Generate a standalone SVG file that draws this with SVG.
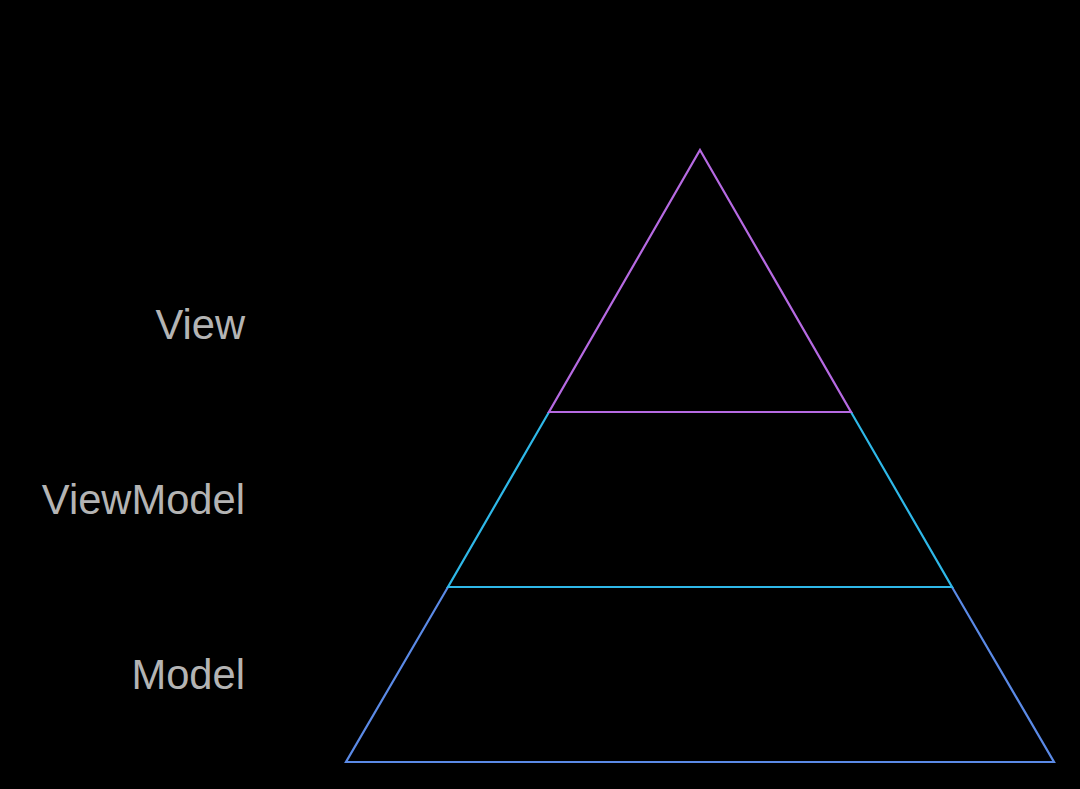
<svg xmlns="http://www.w3.org/2000/svg" width="1080" height="789" viewBox="0 0 1080 789">
<style>
.l{font-family:"Liberation Sans",Arial,sans-serif;font-size:41.7px;fill:#b4b4b4;text-anchor:end}
.s{fill:none;stroke-width:2.2;stroke-linejoin:miter}
</style>
<rect width="1080" height="789" fill="#000"/>
<g id="model"><polygon class="s" stroke="#5b8ae6" points="448,587 952,587 1054,762 346,762"/><text class="l" x="245" y="689">Model</text></g>
<g id="viewmodel"><polygon class="s" stroke="#2fb8e8" points="549,412 851,412 952,587 448,587"/><text class="l" x="245" y="514">ViewModel</text></g>
<g id="view"><polygon class="s" stroke="#b66ae2" points="700,150 851,412 549,412"/><text class="l" x="245" y="339">View</text></g>
<g id="connectors"/>
</svg>
